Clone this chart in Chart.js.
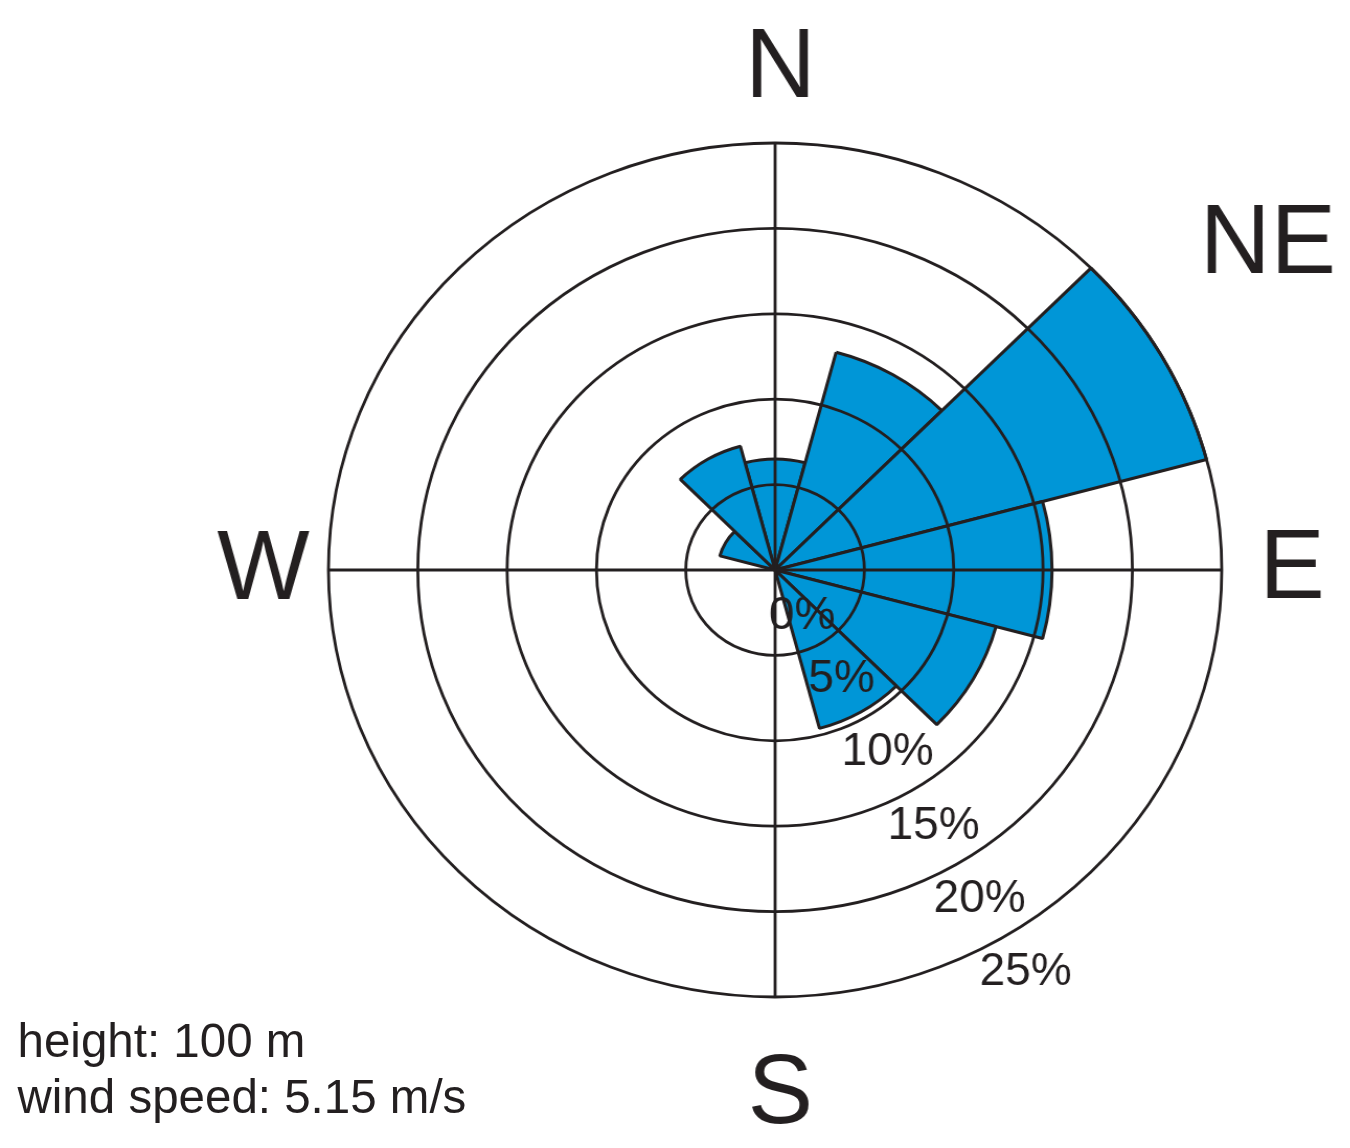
<!DOCTYPE html>
<html>
<head>
<meta charset="utf-8">
<script src="https://cdn.jsdelivr.net/npm/chart.js@4.4.0/dist/chart.umd.min.js"></script>
<style>
html,body{margin:0;padding:0;background:#ffffff;width:1350px;height:1148px;overflow:hidden;}
#wrap{position:absolute;left:0;top:0;width:1291px;height:1148px;transform:scaleX(1.046);transform-origin:0 0;}
#note{position:absolute;left:17.5px;top:1012.5px;font-family:"Liberation Sans",Arial,sans-serif;font-size:47.5px;line-height:56px;color:#231f20;white-space:nowrap;}
</style>
</head>
<body>
<div id="wrap"><canvas id="c"></canvas></div>
<div id="note"></div>
<script>
// ---- data ----
const directions = ['N','NNE','ENE','E','ESE','SSE','S','SSW','WSW','W','WNW','NNW'];
const frequency  = [6.5, 13.2, 25, 15.5, 12.8, 9.6, 0, 0, 0, 0, 3.2, 7.5];
const ringValues = [0, 5, 10, 15, 20, 25];
const ringLabels = ['0%','5%','10%','15%','20%','25%'];
const compassLabels = ['N','NE','E','S','W'];
const noteLines = ['height: 100 m','wind speed: 5.15 m/s'];

// ---- styles ----
const STRETCH = 1.046;
const INK = '#231f20';
const BLUE = '#0096d7';
const FONT = '"Liberation Sans", Arial, sans-serif';

document.getElementById('note').innerHTML = noteLines.map(t => '<div>' + t + '</div>').join('');

function drawText(ctx, text, x, y, align) {
  ctx.save();
  ctx.translate(x, y);
  ctx.scale(1 / STRETCH, 1);
  ctx.textAlign = align;
  ctx.textBaseline = 'alphabetic';
  ctx.fillText(text, 0, 0);
  ctx.restore();
}

const decor = {
  id: 'decor',
  afterDraw(chart) {
    const ctx = chart.ctx;
    const sc = chart.scales.r;
    const xc = sc.xCenter, yc = sc.yCenter;
    const R = sc.getDistanceFromCenterForValue(sc.max);
    ctx.save();
    // compass cross
    ctx.strokeStyle = INK;
    ctx.lineWidth = 2.8;
    ctx.beginPath();
    ctx.moveTo(xc - R, yc); ctx.lineTo(xc + R, yc);
    ctx.moveTo(xc, yc - R); ctx.lineTo(xc, yc + R);
    ctx.stroke();

    ctx.fillStyle = INK;
    // ring labels
    ctx.font = '46px ' + FONT;
    const a = 31 * Math.PI / 180;
    ringValues.forEach((v, i) => {
      const r = Math.max(sc.getDistanceFromCenterForValue(v) + 38, 50);
      const cx = xc + r * Math.sin(a);
      const cy = yc + r * Math.cos(a);
      drawText(ctx, ringLabels[i], cx, cy + 16.5, 'center');
    });

    // compass labels
    ctx.font = '98px ' + FONT;
    const place = {
      N:  {x: xc + 5,        y: yc - R - 46,  align: 'center'},
      NE: {x: xc + R - 21,   y: yc - 297,     align: 'left'},
      E:  {x: xc + R + 36,   y: yc + 28,      align: 'left'},
      S:  {x: xc + 5,        y: yc + R + 126, align: 'center'},
      W:  {x: xc - R - 18,   y: yc + 29,      align: 'right'}
    };
    compassLabels.forEach(t => {
      const p = place[t];
      drawText(ctx, t, p.x, p.y, p.align);
    });
    ctx.restore();
  }
};

new Chart(document.getElementById('c'), {
  type: 'polarArea',
  data: {
    labels: directions,
    datasets: [{
      data: frequency,
      backgroundColor: BLUE,
      borderColor: INK,
      borderWidth: 3
    }]
  },
  options: {
    responsive: true,
    maintainAspectRatio: false,
    animation: false,
    layout: {padding: {left: 314, right: 123, top: 143, bottom: 151}},
    plugins: {legend: {display: false}, tooltip: {enabled: false}},
    scales: {
      r: {
        min: 0,
        max: 25,
        startAngle: -15,
        ticks: {display: false, stepSize: 5},
        grid: {circular: true, color: INK, lineWidth: 2.8, z: 1},
        angleLines: {display: false},
        pointLabels: {display: false}
      }
    }
  },
  plugins: [decor]
});
</script>
</body>
</html>
